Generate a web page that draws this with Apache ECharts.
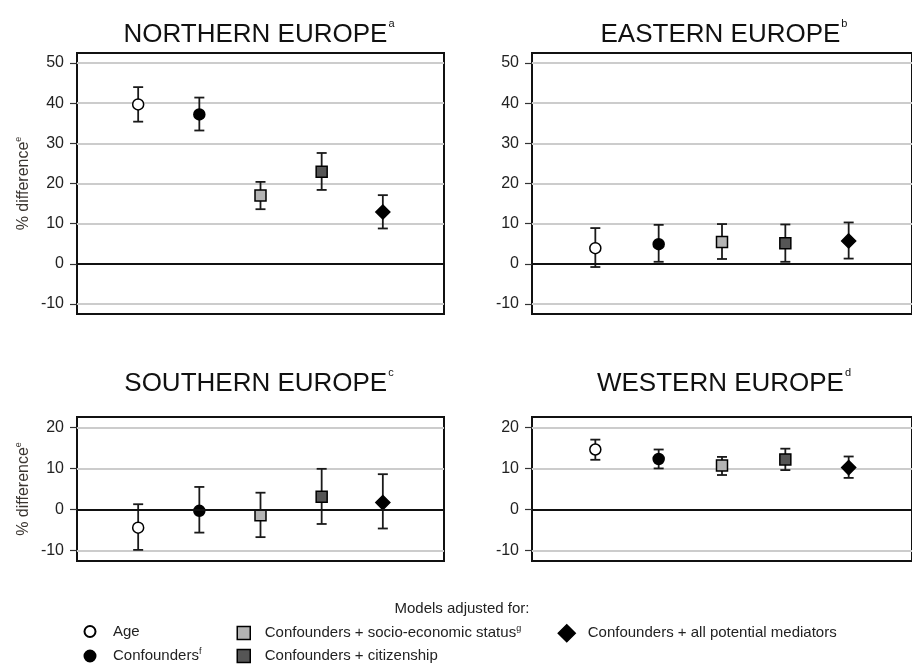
<!DOCTYPE html>
<html>
<head>
<meta charset="utf-8">
<script src="https://cdn.jsdelivr.net/npm/echarts@6/dist/echarts.min.js"></script>
<style>
  html, body { margin: 0; padding: 0; background: #ffffff; }
  #chart { width: 912px; height: 664px; }
</style>
</head>
<body>
<div id="chart"></div>
<script>
// Models compared in every region (x positions 1..5)
const models = [
  'Age',
  'Confounders',
  'Confounders + socio-economic status',
  'Confounders + citizenship',
  'Confounders + all potential mediators'
];
const modelNotes = ['', 'f', 'g', '', ''];

const regions = ['NORTHERN EUROPE', 'EASTERN EUROPE', 'SOUTHERN EUROPE', 'WESTERN EUROPE'];
const regionNotes = ['a', 'b', 'c', 'd'];

const topTicks = [-10, 0, 10, 20, 30, 40, 50];
const bottomTicks = [-10, 0, 10, 20];

// % difference estimates with 95% CI bounds
const northernEst  = [39.7, 37.2, 17.0, 22.9, 12.9];
const northernLow  = [35.4, 33.2, 13.6, 18.4, 8.8];
const northernHigh = [44.0, 41.4, 20.4, 27.6, 17.1];

const easternEst  = [3.9, 4.9, 5.4, 5.1, 5.7];
const easternLow  = [-0.8, 0.5, 1.2, 0.5, 1.3];
const easternHigh = [8.9, 9.7, 9.9, 9.8, 10.3];

const southernEst  = [-4.4, -0.3, -1.4, 3.1, 1.7];
const southernLow  = [-9.8, -5.6, -6.7, -3.5, -4.6];
const southernHigh = [1.3, 5.5, 4.1, 9.9, 8.6];

const westernEst  = [14.6, 12.3, 10.7, 12.2, 10.2];
const westernLow  = [12.1, 10.0, 8.4, 9.6, 7.7];
const westernHigh = [17.0, 14.6, 12.8, 14.8, 12.9];

const regionData = [
  { est: northernEst, low: northernLow, high: northernHigh },
  { est: easternEst,  low: easternLow,  high: easternHigh },
  { est: southernEst, low: southernLow, high: southernHigh },
  { est: westernEst,  low: westernLow,  high: westernHigh }
];

// ---- styling ----
const FONT = '"Liberation Sans", Arial, Helvetica, sans-serif';
const markerStyles = [
  { symbol: 'circle',  size: 11, fill: '#ffffff' },
  { symbol: 'circle',  size: 11, fill: '#000000' },
  { symbol: 'rect',    size: 11, fill: '#b4b4b4' },
  { symbol: 'rect',    size: 11, fill: '#555555' },
  { symbol: 'diamond', size: 14, fill: '#000000' }
];
const panels = [
  { left: 77,  top: 53,  width: 367, height: 261, range: [-12.5, 52.5], ticks: topTicks,    titleX: 259, titleY: 18 },
  { left: 532, top: 53,  width: 387, height: 261, range: [-12.5, 52.5], ticks: topTicks,    titleX: 724, titleY: 18 },
  { left: 77,  top: 417, width: 367, height: 144, range: [-12.5, 22.5], ticks: bottomTicks, titleX: 259, titleY: 367 },
  { left: 532, top: 417, width: 387, height: 144, range: [-12.5, 22.5], ticks: bottomTicks, titleX: 724, titleY: 367 }
];

function renderErrorBar(params, api) {
  const x = api.value(0);
  const pLo = api.coord([x, api.value(1)]);
  const pHi = api.coord([x, api.value(2)]);
  const cap = 5;
  const style = { stroke: '#1a1a1a', lineWidth: 1.8, fill: null };
  return {
    type: 'group',
    children: [
      { type: 'line', shape: { x1: pLo[0], y1: pLo[1], x2: pHi[0], y2: pHi[1] }, style },
      { type: 'line', shape: { x1: pHi[0] - cap, y1: pHi[1], x2: pHi[0] + cap, y2: pHi[1] }, style },
      { type: 'line', shape: { x1: pLo[0] - cap, y1: pLo[1], x2: pLo[0] + cap, y2: pLo[1] }, style }
    ]
  };
}

const grids = [], xAxes = [], yAxes = [], series = [], titles = [];

panels.forEach((p, g) => {
  grids.push({
    left: p.left, top: p.top, width: p.width, height: p.height,
    show: true, borderColor: '#111111', borderWidth: 2, backgroundColor: 'transparent'
  });
  xAxes.push({
    type: 'value', gridIndex: g, min: 0, max: models.length + 1,
    show: false, splitLine: { show: false }
  });
  yAxes.push({
    type: 'value', gridIndex: g, min: p.range[0], max: p.range[1],
    axisLine: { show: false },
    axisTick: { show: true, length: 7, customValues: p.ticks, lineStyle: { color: '#333333', width: 1.2 } },
    axisLabel: { customValues: p.ticks, fontSize: 16, color: '#222222', fontFamily: FONT, margin: 13 },
    splitLine: { show: true, lineStyle: { color: '#cccccc', width: 2 } },
    name: g % 2 === 0 ? '{t|% difference}{s|e}' : '',
    nameLocation: 'middle',
    nameRotate: 90,
    nameGap: 43,
    nameTextStyle: {
      rich: {
        t: { fontSize: 16, lineHeight: 20, color: '#3a3530', fontFamily: FONT },
        s: { fontSize: 9, lineHeight: 10, verticalAlign: 'top', color: '#3a3530', fontFamily: FONT }
      }
    }
  });

  const d = regionData[g];
  series.push({
    type: 'custom',
    name: 'CI ' + regions[g],
    xAxisIndex: g, yAxisIndex: g,
    renderItem: renderErrorBar,
    encode: { x: 0, y: [1, 2] },
    data: models.map((m, i) => [i + 1, d.low[i], d.high[i]]),
    z: 2,
    silent: true,
    markLine: {
      silent: true,
      symbol: ['none', 'none'],
      label: { show: false },
      lineStyle: { color: '#111111', width: 1.8, type: 'solid' },
      data: [{ yAxis: 0 }]
    }
  });
  models.forEach((m, i) => {
    const ms = markerStyles[i];
    series.push({
      type: 'scatter',
      name: m,
      xAxisIndex: g, yAxisIndex: g,
      symbol: ms.symbol,
      symbolSize: ms.size,
      itemStyle: { color: ms.fill, borderColor: '#000000', borderWidth: 1.5, opacity: 1 },
      data: [[i + 1, d.est[i]]],
      z: 3
    });
  });

  titles.push({
    text: '{t|' + regions[g] + '}{s|' + regionNotes[g] + '}',
    left: p.titleX, top: p.titleY, textAlign: 'center', padding: 0,
    textStyle: {
      fontWeight: 'normal',
      rich: {
        t: { fontSize: 26, lineHeight: 34, fontWeight: 'normal', color: '#111111', fontFamily: FONT },
        s: { fontSize: 11, lineHeight: 11, fontWeight: 'normal', verticalAlign: 'top', color: '#111111', fontFamily: FONT, padding: [0, 0, 0, 1] }
      }
    }
  });
});

titles.push({
  text: 'Models adjusted for:',
  left: 462, top: 600, textAlign: 'center', padding: 0,
  textStyle: { fontSize: 15, lineHeight: 18, fontWeight: 'normal', color: '#222222', fontFamily: FONT }
});

function legendLabel(name) {
  const note = modelNotes[models.indexOf(name)];
  return note ? '{t|' + name + '}{s|' + note + '}' : '{t|' + name + '}';
}
function legendText(gap) {
  return {
    rich: {
      t: { fontSize: 15, lineHeight: 18, color: '#222222', fontFamily: FONT, padding: [0, 0, 0, gap] },
      s: { fontSize: 9, lineHeight: 10, verticalAlign: 'top', color: '#222222', fontFamily: FONT }
    }
  };
}
function makeLegend(names, left, size, gap, border) {
  return {
    data: names, orient: 'vertical', left: left, top: 624, height: 60, padding: 0,
    itemWidth: size, itemHeight: size, itemGap: 8,
    selectedMode: false,
    itemStyle: { borderWidth: border },
    formatter: legendLabel,
    textStyle: legendText(gap)
  };
}

const chart = echarts.init(document.getElementById('chart'), null, { renderer: 'canvas' });
chart.setOption({
  animation: false,
  backgroundColor: '#ffffff',
  title: titles,
  grid: grids,
  xAxis: xAxes,
  yAxis: yAxes,
  legend: [
    makeLegend([models[0], models[1]], 83.5, 11, 12.5, 2),
    makeLegend([models[2], models[3]], 236.5, 13, 9.5, 1.5),
    makeLegend([models[4]], 557.5, 17, 7.5, 1.5)
  ],
  series: series
});
</script>
</body>
</html>
